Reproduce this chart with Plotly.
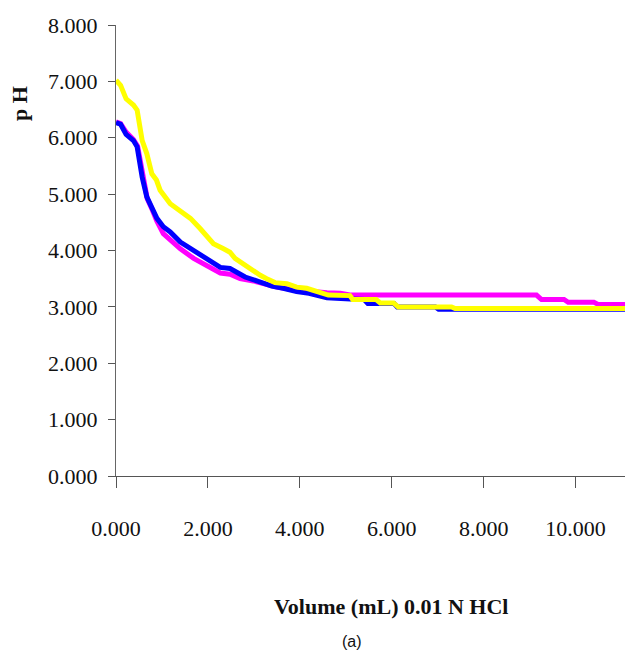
import plotly.graph_objects as go

# Data
vol_magenta = [0, 0.1, 0.22, 0.38, 0.47, 0.54, 0.58, 0.68, 0.80, 0.89, 1.03, 1.18, 1.40, 1.69, 1.98, 2.27, 2.48, 2.70, 2.99, 3.20, 3.50, 3.90, 4.20, 4.59, 4.88, 5.09, 9.15, 9.26, 9.75, 9.84, 10.40, 10.50, 11.18]
ph_magenta = [6.28, 6.25, 6.10, 5.97, 5.85, 5.50, 5.30, 4.92, 4.70, 4.52, 4.30, 4.18, 4.03, 3.86, 3.74, 3.60, 3.58, 3.50, 3.46, 3.42, 3.35, 3.30, 3.27, 3.25, 3.24, 3.21, 3.21, 3.13, 3.13, 3.08, 3.08, 3.04, 3.04]

vol_blue = [0, 0.1, 0.22, 0.38, 0.46, 0.53, 0.57, 0.67, 0.78, 0.89, 1.03, 1.18, 1.40, 1.69, 1.98, 2.27, 2.48, 2.63, 2.81, 3.14, 3.39, 3.64, 3.93, 4.20, 4.59, 5.10, 5.40, 5.48, 6.05, 6.12, 6.95, 7.02, 11.18]
ph_blue = [6.27, 6.24, 6.06, 5.95, 5.84, 5.42, 5.30, 4.95, 4.77, 4.57, 4.42, 4.33, 4.15, 4.00, 3.84, 3.70, 3.68, 3.62, 3.53, 3.44, 3.37, 3.33, 3.27, 3.24, 3.16, 3.14, 3.13, 3.06, 3.06, 3.00, 3.00, 2.96, 2.96]

vol_yellow = [0, 0.1, 0.22, 0.38, 0.46, 0.53, 0.57, 0.67, 0.78, 0.88, 0.96, 1.18, 1.40, 1.62, 1.83, 2.12, 2.34, 2.48, 2.59, 2.85, 3.14, 3.28, 3.46, 3.72, 3.93, 4.15, 4.40, 4.62, 5.09, 5.15, 5.66, 5.75, 6.04, 6.14, 7.30, 7.38, 11.18]
ph_yellow = [7.02, 6.93, 6.69, 6.58, 6.49, 6.19, 5.95, 5.72, 5.36, 5.25, 5.07, 4.83, 4.71, 4.57, 4.39, 4.12, 4.03, 3.97, 3.86, 3.71, 3.56, 3.50, 3.43, 3.41, 3.35, 3.33, 3.26, 3.21, 3.20, 3.13, 3.13, 3.07, 3.07, 3.00, 3.00, 2.97, 2.97]

x_ticks = [0, 2, 4, 6, 8, 10]
x_tick_labels = ["0.000", "2.000", "4.000", "6.000", "8.000", "10.000"]
y_ticks = [0, 1, 2, 3, 4, 5, 6, 7, 8]
y_tick_labels = ["0.000", "1.000", "2.000", "3.000", "4.000", "5.000", "6.000", "7.000", "8.000"]

SERIF = "Liberation Serif, Times New Roman, serif"

# page body has an 8px margin, so the figure is drawn 8px smaller and placed accordingly
PW, PH = 517, 451  # plot area size in pixels
L, T = 108, 17

fig = go.Figure()
for xs, ys, col in [(vol_magenta, ph_magenta, "#FF00FF"),
                    (vol_blue, ph_blue, "#0000FF"),
                    (vol_yellow, ph_yellow, "#FFFF00")]:
    fig.add_trace(go.Scatter(x=xs, y=ys, mode="lines",
                             line=dict(color=col, width=5), hoverinfo="skip"))

def px(xw):
    return (xw - 116) / PW

def py(yw):
    return (476 - yw) / PH

fig.update_layout(
    width=625, height=648,
    margin=dict(l=L, r=0, t=T, b=648 - T - PH),
    paper_bgcolor="white", plot_bgcolor="white",
    showlegend=False,
    xaxis=dict(range=[0, 11.25], tickvals=x_ticks, ticktext=x_tick_labels,
               showgrid=False, zeroline=False, showline=True,
               linecolor="#555555", linewidth=1,
               ticks="outside", ticklen=11, tickcolor="#555555", tickwidth=1,
               ticklabelstandoff=22,
               tickfont=dict(family=SERIF, size=22, color="#111111")),
    yaxis=dict(range=[0, 8], tickvals=y_ticks, ticktext=y_tick_labels,
               showgrid=False, zeroline=False, showline=True,
               linecolor="#666666", linewidth=1,
               ticks="outside", ticklen=7, tickcolor="#555555", tickwidth=1,
               ticklabelstandoff=6,
               tickfont=dict(family=SERIF, size=22, color="#111111")),
    annotations=[
        dict(text="<b>p H</b>", xref="paper", yref="paper",
             x=px(19), y=py(104), showarrow=False,
             textangle=-90, xanchor="center", yanchor="middle",
             font=dict(family=SERIF, size=22, color="#111111")),
        dict(text="<b>Volume (mL) 0.01 N HCl</b>", xref="paper", yref="paper",
             x=px(391), y=py(606), showarrow=False,
             xanchor="center", yanchor="middle",
             font=dict(family=SERIF, size=22, color="#111111")),
        dict(text="(a)", xref="paper", yref="paper",
             x=px(352), y=py(641), showarrow=False,
             xanchor="center", yanchor="middle",
             font=dict(family="Liberation Sans, Arial, sans-serif", size=16, color="#111111")),
    ],
)

fig.write_html("out.html")
